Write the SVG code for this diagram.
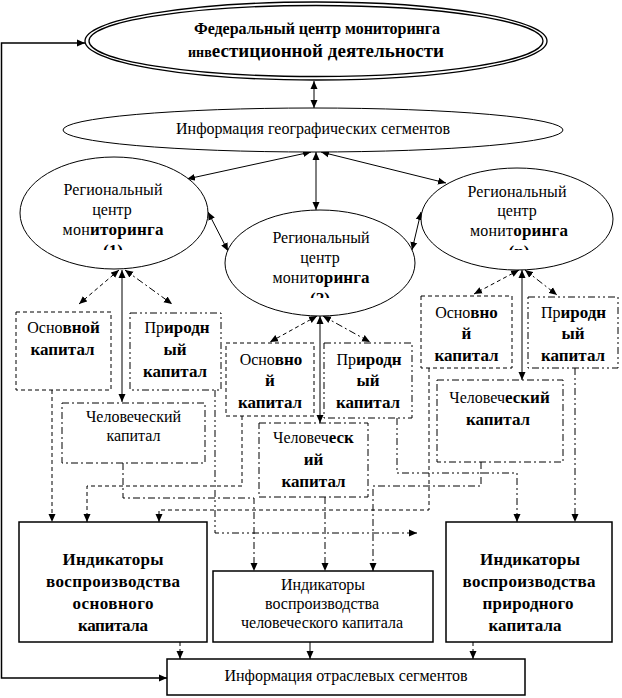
<svg xmlns="http://www.w3.org/2000/svg" width="622" height="698" viewBox="0 0 622 698" font-family="Liberation Serif, Times New Roman, serif">
<style>
text{font-family:"Liberation Serif","Times New Roman",serif;font-size:16px;fill:#000}
.b{font-weight:bold;font-size:17px}
.ln{fill:none;stroke:#000;stroke-width:1}
.box{fill:#fff;stroke:#000;stroke-width:1}
.bb{fill:#fff;stroke:#000;stroke-width:1.5}
.da{stroke-dasharray:4 3}
.dd{stroke-dasharray:7 3 2 3}
.d3{stroke-dasharray:7 3 2 3 2 3}
</style>
<defs>
<marker id="a" viewBox="0 0 8 8" refX="8" refY="4" markerWidth="8" markerHeight="8" markerUnits="userSpaceOnUse" orient="auto-start-reverse">
<path d="M0,0.5 L8,4 L0,7.5 z" fill="#000"/>
</marker>
<clipPath id="c1"><rect x="80" y="238" width="70" height="12"/></clipPath>
<clipPath id="c2"><rect x="285" y="286" width="70" height="12"/></clipPath>
<clipPath id="c3"><rect x="485" y="238" width="70" height="12"/></clipPath>
</defs>
<rect width="622" height="698" fill="#fff"/>

<g id="connectors" class="ln">
<path stroke-width="1.5" d="M85,43 H1.5 V678 H167" marker-start="url(#a)" marker-end="url(#a)"/>
<g marker-start="url(#a)" marker-end="url(#a)">
<path d="M314,81 V108"/>
<path d="M311,152 L187,179"/>
<path d="M316,152 V210"/>
<path d="M321,152 L446,183"/>
<path d="M208,212 L228,251"/>
<path d="M412,250 L421,212"/>
<path class="da" d="M119,270 L79,304"/>
<path class="dd" d="M125,270 L172,304"/>
<path d="M122,270 V402"/>
<path class="da" d="M317,316 L270,342"/>
<path class="dd" d="M323,316 L370,342"/>
<path d="M320,316 V423"/>
<path class="da" d="M519,270 L474,294"/>
<path class="dd" d="M525,270 L557,295"/>
<path d="M522,270 V380"/>
</g>
<g marker-end="url(#a)">
<path class="da" d="M52,390 V522"/>
<path class="da" d="M242,416 V486 H87 V522"/>
<path class="da" d="M429,368 V510 H159 V522"/>
<path class="d3" d="M215,390 V533 H417"/>
<path class="dd" d="M123,463 V498 H254 V571"/>
<path class="dd" d="M325,497 V571"/>
<path class="dd" d="M481,462 V486 H373 V571"/>
<path class="d3" d="M397,418 V473 H517 V522"/>
<path class="d3" d="M575,368 V522"/>
<path class="da" d="M180,642 V659"/>
<path d="M310,642 V659"/>
<path class="da" d="M473,642 V659"/>
</g>
</g>

<g id="federal">
<ellipse cx="316" cy="41" rx="231" ry="39" fill="#fff" stroke="#000" stroke-width="1.3"/>
<ellipse cx="316" cy="41" rx="227" ry="35.5" fill="none" stroke="#000" stroke-width="1.3"/>
<text class="b" font-size="16" style="font-size:16px" x="317" y="34" text-anchor="middle" textLength="246">Федеральный центр мониторинга</text>
<text class="b" x="316" y="57" text-anchor="middle" textLength="256"><tspan style="font-size:14px">инв</tspan><tspan style="font-size:19px">естиционной деятельности</tspan></text>
</g>

<g id="geo">
<ellipse cx="313" cy="130" rx="250" ry="22" fill="#fff" stroke="#000" stroke-width="1"/>
<text x="313" y="134" text-anchor="middle" textLength="274">Информация географических сегментов</text>
</g>

<g id="reg1">
<ellipse cx="114" cy="213" rx="94" ry="56" fill="#fff" stroke="#000" stroke-width="1"/>
<text x="113" y="195" text-anchor="middle" textLength="99">Региональный</text>
<text x="112" y="215" text-anchor="middle">центр</text>
<text x="113" y="235" text-anchor="middle" textLength="101">мон<tspan class="b">иторинга</tspan></text>
<text class="b" x="113" y="256" text-anchor="middle" clip-path="url(#c1)">(1)</text>
</g>

<g id="reg2">
<ellipse cx="320" cy="263" rx="95" ry="53" fill="#fff" stroke="#000" stroke-width="1"/>
<text x="321" y="243" text-anchor="middle" textLength="97">Региональный</text>
<text x="320" y="263" text-anchor="middle">центр</text>
<text x="321" y="283" text-anchor="middle" textLength="97">монит<tspan class="b">оринга</tspan></text>
<text class="b" x="320" y="304" text-anchor="middle" clip-path="url(#c2)">(2)</text>
</g>

<g id="reg3">
<ellipse cx="517" cy="219" rx="96" ry="51" fill="#fff" stroke="#000" stroke-width="1"/>
<text x="517" y="197" text-anchor="middle" textLength="99">Региональный</text>
<text x="517" y="216" text-anchor="middle">центр</text>
<text x="519" y="236" text-anchor="middle" textLength="98">монит<tspan class="b">оринга</tspan></text>
<text class="b" x="519" y="257" text-anchor="middle" clip-path="url(#c3)">(n)</text>
</g>

<g id="osn1">
<rect class="box da" x="16" y="312" width="95" height="78"/>
<text x="63.5" y="333" text-anchor="middle">Осно<tspan class="b">вной</tspan></text>
<text class="b" x="62.5" y="355" text-anchor="middle">капитал</text>
</g>
<g id="prir1">
<rect class="box d3" x="130" y="313" width="91" height="77"/>
<text x="177" y="333" text-anchor="middle">Пр<tspan class="b">иродн</tspan></text>
<text class="b" x="175" y="355" text-anchor="middle">ый</text>
<text class="b" x="175" y="377" text-anchor="middle">капитал</text>
</g>
<g id="chel1">
<rect class="box dd" x="62" y="403" width="143" height="60"/>
<text x="133.5" y="422" text-anchor="middle">Человеческий</text>
<text x="133.5" y="441" text-anchor="middle">капитал</text>
</g>

<g id="osn2">
<rect class="box da" x="226" y="343" width="88" height="73"/>
<text x="271" y="365" text-anchor="middle">Осно<tspan class="b">вно</tspan></text>
<text class="b" x="270" y="386" text-anchor="middle">й</text>
<text class="b" x="270" y="408" text-anchor="middle">капитал</text>
</g>
<g id="prir2">
<rect class="box d3" x="324" y="343" width="88" height="75"/>
<text x="369" y="365" text-anchor="middle">Пр<tspan class="b">иродн</tspan></text>
<text class="b" x="368" y="386" text-anchor="middle">ый</text>
<text class="b" x="368" y="408" text-anchor="middle">капитал</text>
</g>
<g id="chel2">
<rect class="box dd" x="259" y="423" width="109" height="74"/>
<text x="313.5" y="443" text-anchor="middle">Человеч<tspan class="b">еск</tspan></text>
<text class="b" x="313.5" y="465" text-anchor="middle">ий</text>
<text class="b" x="313.5" y="487" text-anchor="middle">капитал</text>
</g>

<g id="osn3">
<rect class="box da" x="421" y="296" width="91" height="72"/>
<text x="466.5" y="318" text-anchor="middle">Осно<tspan class="b">вно</tspan></text>
<text class="b" x="466.5" y="339" text-anchor="middle">й</text>
<text class="b" x="466.5" y="361" text-anchor="middle">капитал</text>
</g>
<g id="prir3">
<rect class="box d3" x="528" y="297" width="90" height="71"/>
<text x="573.5" y="318" text-anchor="middle">Пр<tspan class="b">иродн</tspan></text>
<text class="b" x="573" y="339" text-anchor="middle">ый</text>
<text class="b" x="573" y="361" text-anchor="middle">капитал</text>
</g>
<g id="chel3">
<rect class="box dd" x="437" y="380" width="126" height="82"/>
<text x="499.5" y="403" text-anchor="middle">Человеч<tspan class="b">еский</tspan></text>
<text class="b" x="498" y="425" text-anchor="middle">капитал</text>
</g>

<g id="ind-osn">
<rect class="bb" x="19" y="522" width="188" height="120"/>
<text class="b" x="113" y="565" text-anchor="middle" textLength="101">Индикаторы</text>
<text class="b" x="113" y="587" text-anchor="middle" textLength="134">воспроизводства</text>
<text class="b" x="113" y="609" text-anchor="middle" textLength="81">основного</text>
<text class="b" x="113" y="631" text-anchor="middle" textLength="70">капитала</text>
</g>
<g id="ind-chel">
<rect class="bb" x="213" y="571" width="220" height="71"/>
<text x="323" y="590" text-anchor="middle" textLength="84">Индикаторы</text>
<text x="322" y="609" text-anchor="middle" textLength="114">воспроизводства</text>
<text x="322" y="628" text-anchor="middle" textLength="162">человеческого капитала</text>
</g>
<g id="ind-prir">
<rect class="bb" x="446" y="522" width="166" height="120"/>
<text class="b" x="530" y="565" text-anchor="middle" textLength="100">Индикаторы</text>
<text class="b" x="529" y="587" text-anchor="middle" textLength="133">воспроизводства</text>
<text class="b" x="528" y="609" text-anchor="middle" textLength="91">природного</text>
<text class="b" x="525" y="631" text-anchor="middle" textLength="73">капитала</text>
</g>
<g id="otrasl">
<rect class="bb" x="167" y="659" width="358" height="36"/>
<text x="346" y="681" text-anchor="middle" textLength="243">Информация отраслевых сегментов</text>
</g>
</svg>
